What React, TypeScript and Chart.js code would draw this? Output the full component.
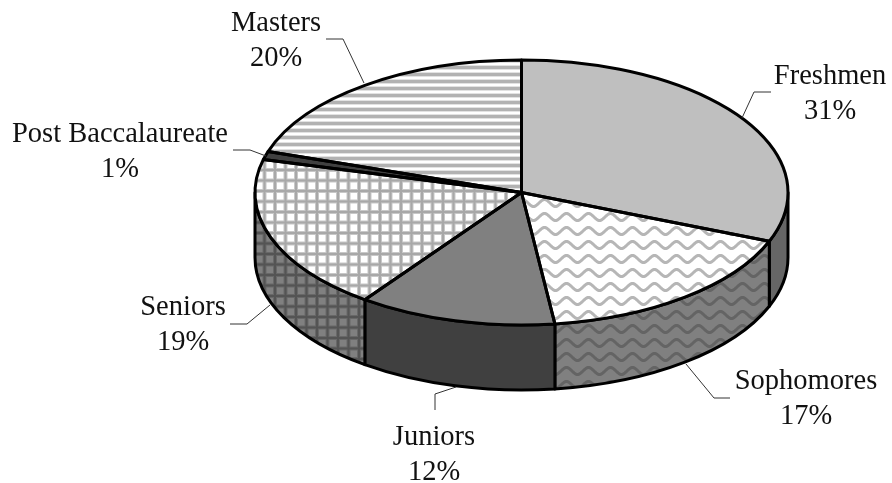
import React, { useEffect, useRef } from "react";
import { Chart, registerables } from "chart.js";

Chart.register(...registerables);

const categories = ["Freshmen", "Sophomores", "Juniors", "Seniors", "Post Baccalaureate", "Masters"];
const shares = [31, 17, 12, 19, 1, 20];

// Ellipse geometry and annotation layout (not data)
const CX = 521.5, CY = 192.5, RX = 266.5, RY = 132.5, DEPTH = 65;
const labelCenters = [[830, 84], [806, 389], [434, 445], [183, 315], [120, 142], [276, 31]];
const LINE_GAP = 35;
const leaders = [
  [[771, 92], [754, 92], [742, 118]],
  [[730, 398], [714, 398], [686, 364]],
  [[435, 410], [435, 394], [456, 387]],
  [[230, 324], [247, 324], [270, 305]],
  [[233, 150], [250, 150], [266, 156]],
  [[326, 39], [343, 39], [364, 83]],
];

function tile(w: number, h: number, draw: (c: CanvasRenderingContext2D) => void) {
  const cv = document.createElement("canvas");
  cv.width = w;
  cv.height = h;
  draw(cv.getContext("2d")!);
  return cv;
}
function waveTile(bg: string, fg: string) {
  return tile(22, 14, (c) => {
    c.fillStyle = bg;
    c.fillRect(0, 0, 22, 14);
    c.strokeStyle = fg;
    c.lineWidth = 3;
    c.lineJoin = "round";
    c.beginPath();
    for (let x = -2; x <= 24; x++) {
      const y = 7 + 3.5 * Math.sin((x / 22) * 2 * Math.PI);
      if (x === -2) c.moveTo(x, y); else c.lineTo(x, y);
    }
    c.stroke();
  });
}
function plaidTile(bg: string, fg: string, edge: string) {
  return tile(21, 21, (c) => {
    c.fillStyle = bg;
    c.fillRect(0, 0, 21, 21);
    for (const o of [0, 10.5]) {
      c.fillStyle = edge;
      c.fillRect(o, 0, 4, 21);
      c.fillRect(0, o, 21, 4);
    }
    for (const o of [0, 10.5]) {
      c.fillStyle = fg;
      c.fillRect(o + 1, 0, 2, 21);
      c.fillRect(0, o + 1, 21, 2);
    }
  });
}
function stripeTile() {
  return tile(4, 7, (c) => {
    c.fillStyle = "#ffffff";
    c.fillRect(0, 0, 4, 7);
    c.fillStyle = "#e2e2e2";
    c.fillRect(0, 2, 4, 5);
    c.fillStyle = "#b2b2b2";
    c.fillRect(0, 3, 4, 3);
  });
}

export default function App() {
  const ref = useRef<HTMLCanvasElement>(null);
  useEffect(() => {
    const ctx = ref.current!.getContext("2d")!;
    const pat = (cv: HTMLCanvasElement) => ctx.createPattern(cv, "repeat")!;

    const topFills: (string | CanvasPattern)[] = [
      "#bfbfbf",
      pat(waveTile("#ffffff", "#b6b6b6")),
      "#808080",
      pat(plaidTile("#ffffff", "#a8a8a8", "#c8c8c8")),
      "#404040",
      pat(stripeTile()),
    ];
    const wallFills: (string | CanvasPattern)[] = [
      "#666666",
      pat(waveTile("#808080", "#646464")),
      "#404040",
      pat(plaidTile("#808080", "#545454", "#686868")),
      "#262626",
      "#666666",
    ];

    // Maps Chart.js' circular arc geometry on to the tilted ellipse.
    const toEllipse = (c: CanvasRenderingContext2D, arc: any) => {
      c.translate(CX, CY);
      c.scale(RX / arc.outerRadius, RY / arc.outerRadius);
      c.translate(-arc.x, -arc.y);
    };

    const tilt3d = {
      id: "tilt3d",
      beforeDatasetsDraw(chart: any) {
        const c: CanvasRenderingContext2D = chart.ctx;
        const arcs = chart.getDatasetMeta(0).data;
        arcs.forEach((arc: any, i: number) => {
          // only the part of a slice facing the viewer has a visible wall
          const a0 = Math.max(arc.startAngle, 0);
          const a1 = Math.min(arc.endAngle, Math.PI);
          if (a1 <= a0) return;
          c.save();
          c.beginPath();
          c.ellipse(CX, CY, RX, RY, 0, a0, a1);
          c.ellipse(CX, CY + DEPTH, RX, RY, 0, a1, a0, true);
          c.closePath();
          c.fillStyle = wallFills[i];
          c.fill();
          c.strokeStyle = "#000";
          c.lineWidth = 3;
          c.lineJoin = "round";
          c.stroke();
          c.restore();
        });
        // Keep the hatch patterns at screen size inside the squeezed slices.
        const r = arcs[0].outerRadius;
        const undo = new DOMMatrix()
          .translate(arcs[0].x, arcs[0].y)
          .scale(r / RX, r / RY)
          .translate(-CX, -CY);
        topFills.forEach((f) => {
          if (typeof f !== "string") f.setTransform(undo);
        });
        // Slices are painted by the library, squeezed into the ellipse.
        c.save();
        toEllipse(c, arcs[0]);
      },
      afterDatasetsDraw(chart: any) {
        const c: CanvasRenderingContext2D = chart.ctx;
        c.restore();
        const arcs = chart.getDatasetMeta(0).data;
        c.save();
        c.strokeStyle = "#000";
        c.lineWidth = 3;
        c.lineJoin = "round";
        arcs.forEach((arc: any) => {
          c.beginPath();
          c.moveTo(CX, CY);
          c.ellipse(CX, CY, RX, RY, 0, arc.startAngle, arc.endAngle);
          c.closePath();
          c.stroke();
        });
        c.restore();

        c.save();
        c.strokeStyle = "#333";
        c.lineWidth = 1;
        leaders.forEach((pts) => {
          c.beginPath();
          pts.forEach(([x, y], k) => (k ? c.lineTo(x, y) : c.moveTo(x, y)));
          c.stroke();
        });
        c.fillStyle = "#111";
        c.font = '28.5px "Liberation Serif"';
        c.textAlign = "center";
        c.textBaseline = "alphabetic";
        categories.forEach((name, i) => {
          const [x, y] = labelCenters[i];
          c.fillText(name, x, y);
          c.fillText(shares[i] + "%", x, y + LINE_GAP);
        });
        c.restore();
      },
    };

    const chart = new Chart(ctx, {
      type: "pie",
      data: {
        labels: categories,
        datasets: [{ data: shares, backgroundColor: topFills as any, borderWidth: 0 }],
      },
      options: {
        responsive: false,
        animation: false,
        plugins: { legend: { display: false }, tooltip: { enabled: false } },
      },
      plugins: [tilt3d],
    });
    return () => chart.destroy();
  }, []);
  return (
    <canvas
      ref={ref}
      width={892}
      height={483}
      style={{ position: "fixed", left: 0, top: 0, width: 892, height: 483, display: "block" }}
    />
  );
}
